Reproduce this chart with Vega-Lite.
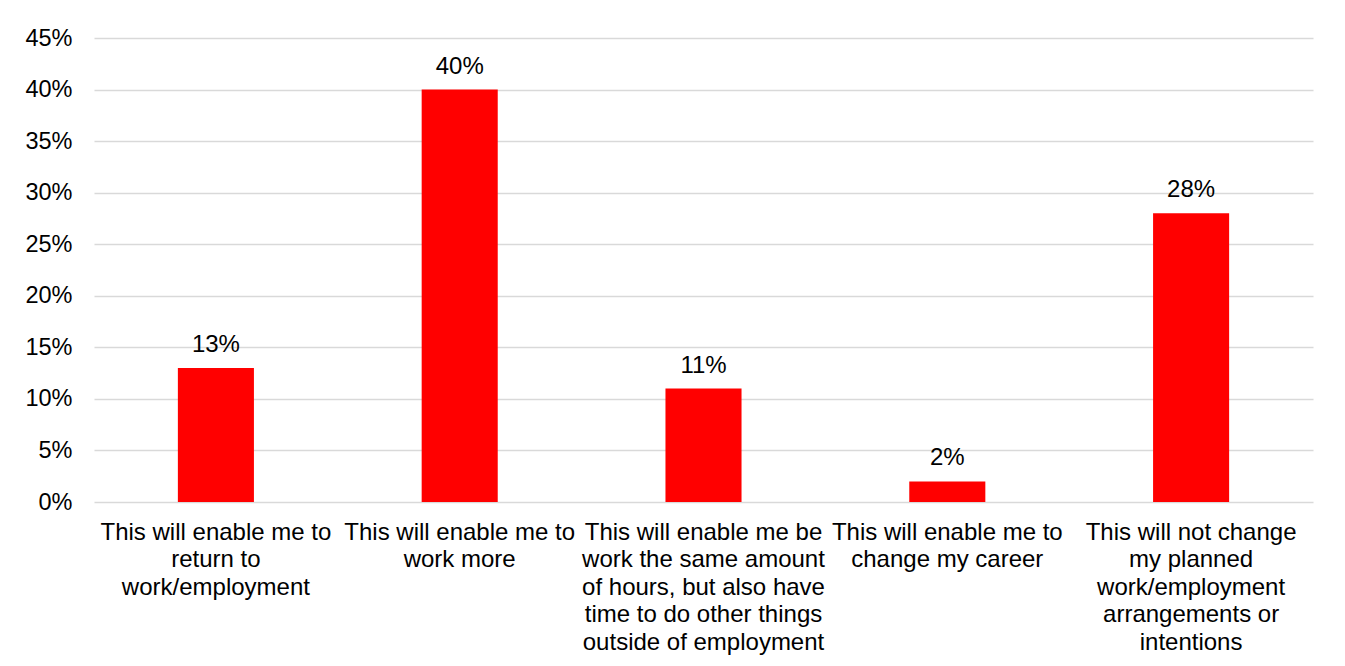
{
  "$schema": "https://vega.github.io/schema/vega-lite/v6.json",
  "autosize": "none",
  "width": 1219,
  "height": 464,
  "padding": {"left": 94, "top": 38, "right": 32, "bottom": 164},
  "background": "white",
  "config": {
    "view": {"stroke": null},
    "font": "Liberation Sans",
    "axis": {"labelColor": "#000000", "labelFont": "Liberation Sans"}
  },
  "data": {
    "values": [
      {"answer": "This will enable me to\nreturn to\nwork/employment", "share": 0.13, "text": "13%"},
      {"answer": "This will enable me to\nwork more", "share": 0.40, "text": "40%"},
      {"answer": "This will enable me be\nwork the same amount\nof hours, but also have\ntime to do other things\noutside of employment", "share": 0.11, "text": "11%"},
      {"answer": "This will enable me to\nchange my career", "share": 0.02, "text": "2%"},
      {"answer": "This will not change\nmy planned\nwork/employment\narrangements or\nintentions", "share": 0.28, "text": "28%"}
    ]
  },
  "encoding": {
    "x": {
      "field": "answer",
      "type": "nominal",
      "sort": null,
      "scale": {"paddingInner": 0.688, "paddingOuter": 0.344},
      "axis": {
        "title": null,
        "labelAngle": 0,
        "domain": false,
        "ticks": false,
        "tickSize": 0,
        "labelPadding": 18,
        "labelFontSize": 24,
        "labelLineHeight": 27.5,
        "labelBaseline": "top",
        "labelLimit": 0,
        "labelExpr": "split(datum.value, '\\n')"
      }
    },
    "y": {
      "field": "share",
      "type": "quantitative",
      "scale": {"domain": [0, 0.45], "nice": false},
      "axis": {
        "title": null,
        "format": ".0%",
        "values": [0, 0.05, 0.1, 0.15, 0.2, 0.25, 0.3, 0.35, 0.4, 0.45],
        "domain": false,
        "ticks": false,
        "tickSize": 0,
        "labelPadding": 22,
        "labelFontSize": 23.5,
        "gridColor": "#d9d9d9",
        "gridWidth": 1.5,
        "gridOpacity": 1
      }
    }
  },
  "layer": [
    {"mark": {"type": "bar", "color": "#ff0000"}},
    {
      "mark": {"type": "text", "baseline": "alphabetic", "dy": -16, "fontSize": 24, "color": "#000000", "font": "Liberation Sans"},
      "encoding": {"text": {"field": "text"}}
    }
  ]
}
